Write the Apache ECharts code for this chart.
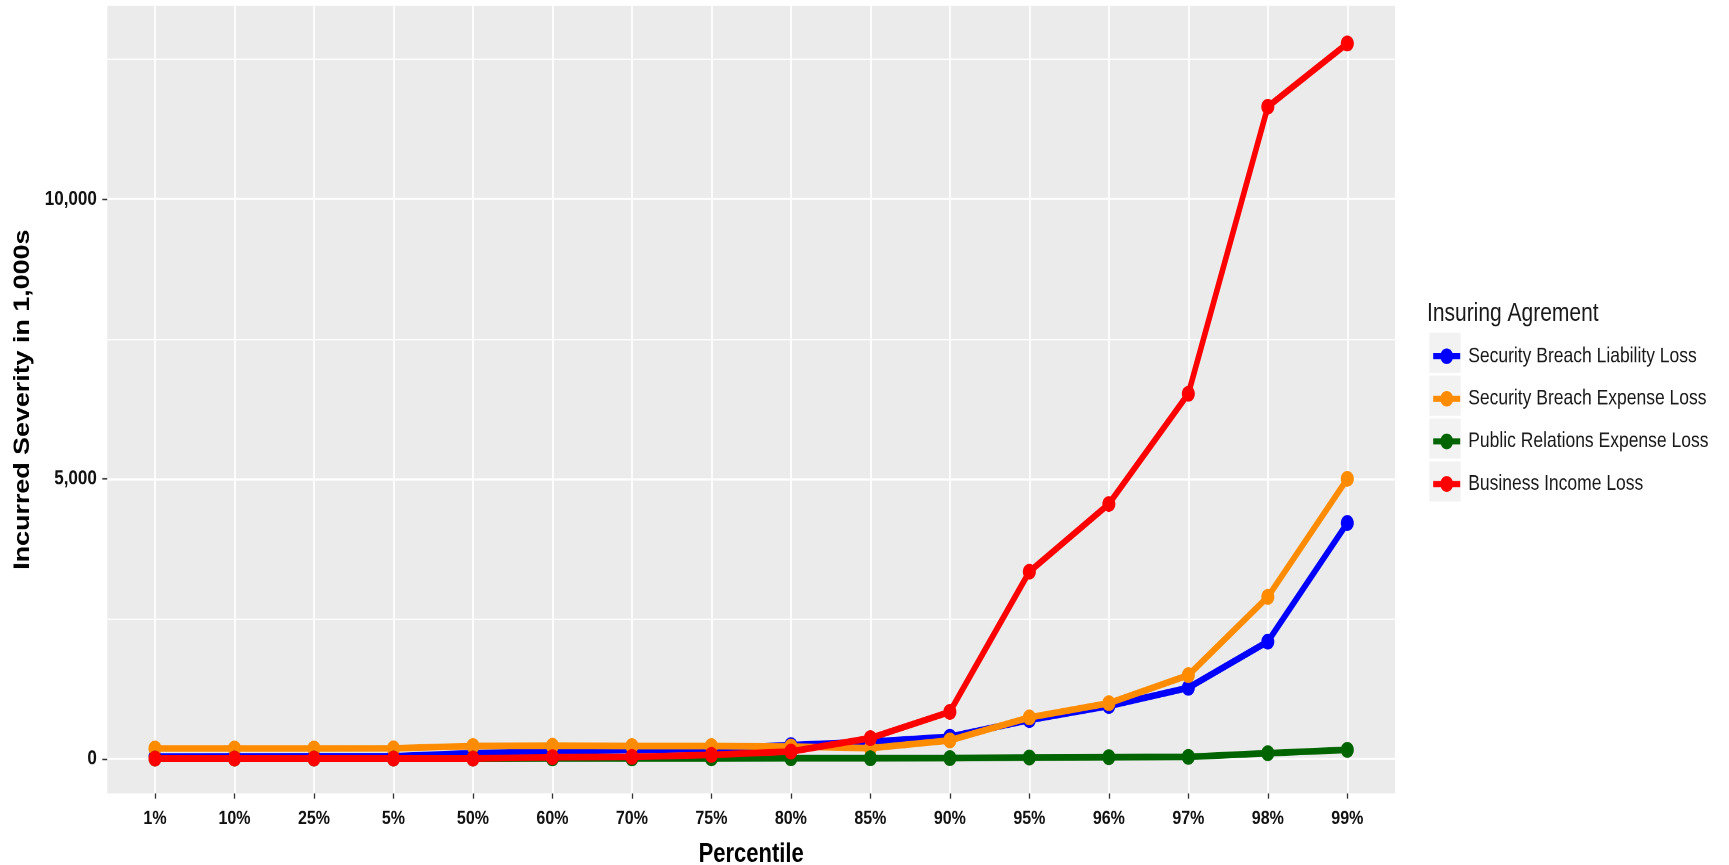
<!DOCTYPE html>
<html>
<head>
<meta charset="utf-8">
<script src="https://cdn.jsdelivr.net/npm/echarts@6/dist/echarts.min.js"></script>
<style>
html,body{margin:0;padding:0;background:#fff;overflow:hidden;width:1729px;height:865px}
#wrap{position:absolute;left:0;top:0;width:1729px;height:709px;transform:scaleY(1.22);transform-origin:0 0}
#chart{width:1729px;height:709px}
</style>
</head>
<body>
<div id="wrap"><div id="chart"></div></div>
<script>
// ---- data ----
const categories = ['1%','10%','25%','5%','50%','60%','70%','75%','80%','85%','90%','95%','96%','97%','98%','99%'];
const seriesNames = ['Security Breach Liability Loss','Security Breach Expense Loss','Public Relations Expense Loss','Business Income Loss'];
const liabilityLoss = [35, 38, 40, 42, 95, 125, 155, 175, 240, 300, 390, 690, 940, 1265, 2090, 4210];
const expenseLoss   = [180, 180, 180, 182, 225, 228, 225, 225, 215, 185, 325, 735, 990, 1490, 2890, 5000];
const prExpenseLoss = [0, 0, 0, 0, 0, 2, 3, 4, 5, 6, 8, 20, 25, 30, 95, 155];
const incomeLoss    = [0, 0, 0, 0, 0, 25, 30, 65, 125, 365, 835, 3340, 4550, 6520, 11650, 12780];
const seriesColors = ['#0000FF', '#FF8C00', '#006400', '#FF0000'];
const yTickValues = [0, 5000, 10000];
const yMinorValues = [2500, 7500, 12500];
const legendTitle = 'Insuring Agrement';
const xTitle = 'Percentile';
const yTitle = 'Incurred Severity in 1,000s';

const FONT = "'Liberation Sans', Arial, Helvetica, sans-serif";
const idx = categories.map((c, i) => i);
const allValues = [liabilityLoss, expenseLoss, prExpenseLoss, incomeLoss];

const gridLines = [];
idx.forEach(i => gridLines.push({xAxis: i, lineStyle: {color: '#FFFFFF', width: 1.7, type: 'solid'}}));
yTickValues.forEach(v => gridLines.push({yAxis: v, lineStyle: {color: '#FFFFFF', width: 1.7, type: 'solid'}}));
yMinorValues.forEach(v => gridLines.push({yAxis: v, lineStyle: {color: '#FFFFFF', width: 1.0, type: 'solid'}}));

const series = seriesNames.map((name, k) => ({
  name: name,
  type: 'line',
  data: allValues[k].map((v, i) => [i, v]),
  symbol: 'circle',
  symbolSize: 13,
  showSymbol: true,
  lineStyle: {color: seriesColors[k], width: 5.5},
  itemStyle: {color: seriesColors[k]},
  emphasis: {disabled: true},
  animation: false,
  z: 2 + k
}));
series[0].markLine = {
  silent: true,
  symbol: 'none',
  z: 1,
  label: {show: false},
  emphasis: {disabled: true},
  animation: false,
  data: gridLines
};

const chart = echarts.init(document.getElementById('chart'), null, {renderer: 'canvas', devicePixelRatio: 2});
chart.setOption({
  animation: false,
  backgroundColor: '#FFFFFF',
  title: {
    text: legendTitle,
    left: 1427, top: 246.8, padding: 0,
    textStyle: {fontFamily: FONT, fontSize: 21, fontWeight: 'normal', color: '#1a1a1a'}
  },
  grid: {
    left: 107.3, right: 334, top: 4.9, bottom: 58.8,
    outerBoundsMode: 'none',
    show: true, backgroundColor: '#EBEBEB', borderWidth: 0, containLabel: false
  },
  xAxis: {
    type: 'value',
    min: -0.6, max: 15.6,
    name: xTitle, nameLocation: 'middle', nameGap: 39,
    nameTextStyle: {fontFamily: FONT, fontSize: 22, fontWeight: 'bold', color: '#000'},
    axisLine: {show: false, onZero: false},
    axisTick: {show: true, customValues: idx, length: 4.5, lineStyle: {color: '#333', width: 1.3}},
    axisLabel: {
      customValues: idx, margin: 13,
      formatter: v => categories[Math.round(v)],
      fontFamily: FONT, fontSize: 16, fontWeight: 'bold', color: '#111'
    },
    splitLine: {show: false}
  },
  yAxis: {
    type: 'value',
    min: -620, max: 13450,
    name: yTitle, nameLocation: 'middle', nameGap: 72,
    nameTextStyle: {fontFamily: FONT, fontSize: 22, fontWeight: 'bold', color: '#000'},
    axisLine: {show: false, onZero: false},
    axisTick: {show: true, customValues: yTickValues, length: 5, lineStyle: {color: '#333', width: 1.3}},
    axisLabel: {
      customValues: yTickValues, margin: 10.5,
      formatter: v => Number(v).toLocaleString('en-US'),
      fontFamily: FONT, fontSize: 17, fontWeight: 'bold', color: '#111'
    },
    splitLine: {show: false}
  },
  legend: {
    orient: 'vertical',
    left: 1430.7, top: 283, padding: 0,
    itemWidth: 27, itemHeight: 16, itemGap: 16.9,
    selectedMode: false,
    data: seriesNames,
    lineStyle: {width: 5},
    textStyle: {fontFamily: FONT, fontSize: 17.5, color: '#1a1a1a', padding: [0, 0, 0, 3]}
  },
  graphic: seriesNames.map((n, k) => ({
    type: 'rect', z: 0, silent: true,
    shape: {x: 1429.3, y: 272.7 + 35.2 * k, width: 31.4, height: 32.8},
    style: {fill: '#F2F2F2'}
  })),
  series: series
});
</script>
</body>
</html>
